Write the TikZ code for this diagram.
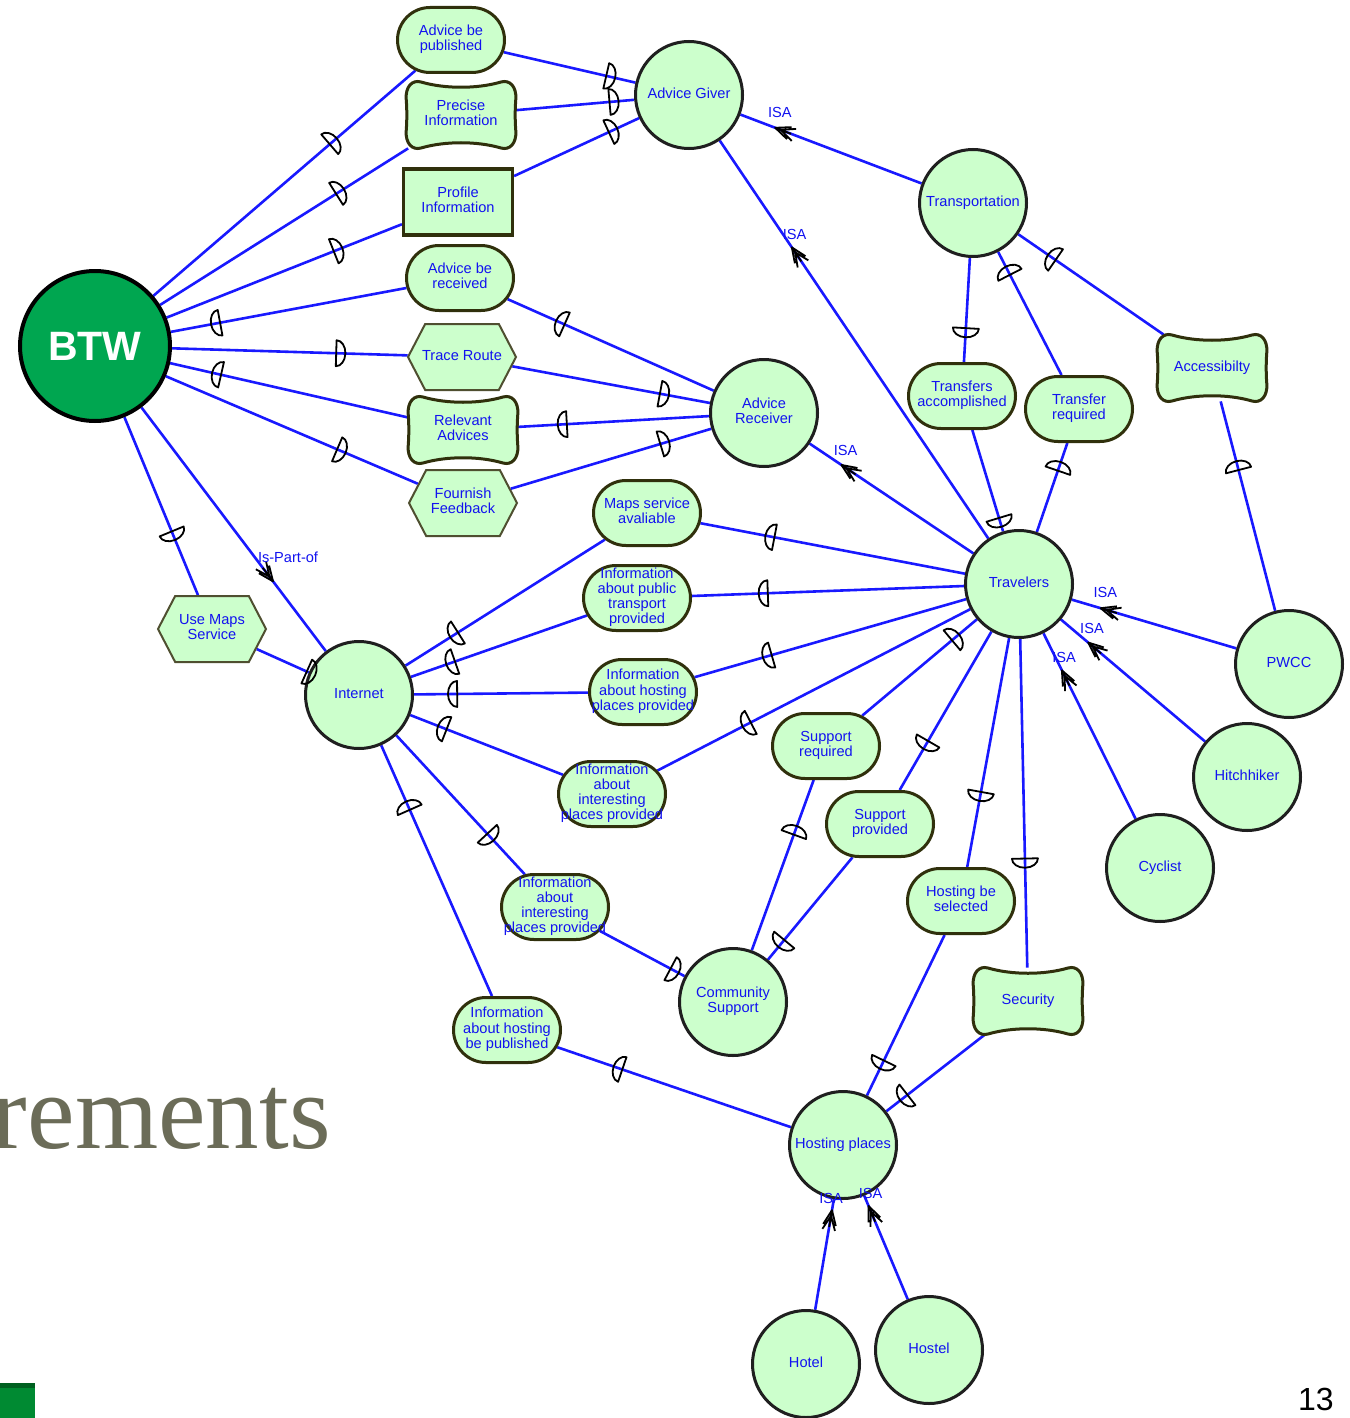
\documentclass[tikz,border=0pt]{standalone}
\usepackage{fontspec}
\setmainfont{Liberation Sans}
\newfontfamily\titleserif{Liberation Serif}
\usetikzlibrary{shapes.misc,shapes.symbols,backgrounds}

\definecolor{ifill}{RGB}{204,255,204}
\definecolor{iblue}{RGB}{18,18,240}
\definecolor{linkblue}{RGB}{25,25,255}
\definecolor{olive}{RGB}{48,48,12}
\definecolor{btwgreen}{RGB}{0,166,80}
\definecolor{titlegrey}{RGB}{107,108,88}
\definecolor{barmid}{RGB}{0,138,50}
\definecolor{bartop}{RGB}{0,96,32}

% centred, fixed-width label box so that the outline size never depends on the text
\newcommand\tx[1]{\makebox[20pt]{\begin{tabular}{@{}c@{}}#1\end{tabular}}}

\tikzset{
  lbl/.style={text=iblue, font=\fontsize{7.3}{7.6}\selectfont, inner sep=0pt},
  actor/.style={lbl, circle, fill=ifill, draw=black!88, line width=1.5pt, minimum size=53.5pt},
  goal/.style={lbl, rounded rectangle, fill=ifill, draw=olive, line width=1.5pt,
    minimum width=53.5pt, minimum height=32.5pt},
  task/.style={lbl, signal, signal to=west and east, signal pointer angle=125, fill=ifill,
    draw=olive!85, line width=1pt, minimum width=54pt, minimum height=33pt},
  resource/.style={lbl, rectangle, fill=ifill, draw=olive, line width=1.6pt,
    minimum width=54.5pt, minimum height=33pt},
  softbox/.style={lbl, rectangle, minimum width=54pt, minimum height=33pt},
  softline/.style={fill=ifill, draw=olive, line width=1.5pt},
  link/.style={draw=linkblue, line width=1.3pt},
  markline/.style={draw=black, line width=0.9pt, line join=round},
  isatext/.style={text=iblue, font=\fontsize{7.3}{8}\selectfont, inner sep=0pt},
  % half-disc link marks, bulging towards the end or the start of the link
  dmend/.pic={\draw[markline] (-1.8pt,-6.5pt) -- (-1.8pt,6.5pt)
     arc[start angle=90,end angle=-90,x radius=4.6pt,y radius=6.5pt] -- cycle;},
  dmstart/.pic={\draw[markline] (1.8pt,-6.5pt) -- (1.8pt,6.5pt)
     arc[start angle=90,end angle=270,x radius=4.6pt,y radius=6.5pt] -- cycle;},
  % double chevron for ISA / Is-Part-of links, pointing towards the end
  isahead/.pic={\draw[markline] (-5pt,3.2pt) -- (2.5pt,0pt) -- (-5pt,-3.2pt)
     (-7.5pt,3.2pt) -- (-0.5pt,0pt) -- (-7.5pt,-3.2pt) (2.5pt,0pt) -- (-6pt,0pt);},
  onlink/.style={sloped, allow upside down},
}

% softgoal: wavy outline plus an invisible rectangle carrying the name
\newcommand\softgoal[3]{%
  \path[softline, shift={(#2)}] (-20pt,16.5pt) .. controls (-8pt,13pt) and (8pt,13pt) .. (20pt,16.5pt)
    .. controls (24.5pt,17.8pt) and (27.8pt,14pt) .. (27.4pt,8pt)
    .. controls (27pt,3pt) and (27pt,-3pt) .. (27.4pt,-8pt)
    .. controls (27.8pt,-14pt) and (24.5pt,-17.8pt) .. (20pt,-16.5pt)
    .. controls (8pt,-13pt) and (-8pt,-13pt) .. (-20pt,-16.5pt)
    .. controls (-24.5pt,-17.8pt) and (-27.8pt,-14pt) .. (-27.4pt,-8pt)
    .. controls (-27pt,-3pt) and (-27pt,3pt) .. (-27.4pt,8pt)
    .. controls (-27.8pt,14pt) and (-24.5pt,17.8pt) .. (-20pt,16.5pt) -- cycle;
  \node[softbox] (#1) at (#2) {\tx{#3}};}

% link with a half-disc mark placed along the centre line
\newcommand\mlink[4]{%
  \begin{pgfonlayer}{background}\draw[link] (#1) -- (#2);\end{pgfonlayer}%
  \path (#1.center) -- (#2.center) pic[pos=#3,onlink]{#4};}

% ISA link from child to parent
\newcommand\isalink[2]{%
  \begin{pgfonlayer}{background}\draw[link] (#1) -- (#2);\end{pgfonlayer}%
  \path (#1.center) -- (#2.center) pic[pos=0.68,onlink]{isahead}
    node[pos=0.68, isatext, yshift=8.5pt]{ISA};}

\begin{document}
\begin{tikzpicture}[x=0.5pt,y=-0.5pt]
\useasboundingbox (0,0) rectangle (1349,1418);

\begin{pgfonlayer}{background}
  \fill[white] (0,0) rectangle (1349,1418);
  \begin{scope}
    \clip (0,0) rectangle (1349,1418);
    \node[anchor=base east, inner sep=0pt, text=titlegrey,
      font=\titleserif\fontsize{53.5}{60}\selectfont] (title) at (331,1148) {rements};
  \end{scope}
  \fill[barmid] (0,1383) rectangle (35,1418);
  \fill[bartop] (0,1383) rectangle (35,1388);
\end{pgfonlayer}
\node[anchor=base east, inner sep=0pt, font=\fontsize{16}{16}\selectfont] (pagenum) at (1334,1410) {13};

% actors
\node[circle, fill=btwgreen, draw=black, line width=2pt, minimum size=75pt, inner sep=0pt,
  text=white, font=\bfseries\fontsize{20.5}{20}\selectfont] (btw) at (95,346) {BTW};
\node[actor] (ag) at (689,95) {\tx{Advice Giver}};
\node[actor] (tp) at (973,203) {\tx{Transportation}};
\node[actor] (ar) at (764,413) {\tx{Advice\\Receiver}};
\node[actor] (tv) at (1019,584) {\tx{Travelers}};
\node[actor] (inet) at (359,695) {\tx{Internet}};
\node[actor] (pw) at (1289,664) {\tx{PWCC}};
\node[actor] (hh) at (1247,777) {\tx{Hitchhiker}};
\node[actor] (cy) at (1160,868) {\tx{Cyclist}};
\node[actor] (comm) at (733,1002) {\tx{Community\\Support}};
\node[actor] (hp) at (843,1145) {\tx{Hosting places}};
\node[actor] (hotel) at (806,1364) {\tx{Hotel}};
\node[actor] (hostel) at (929,1350) {\tx{Hostel}};

% goals
\node[goal] (g1) at (451,40) {\tx{Advice be\\published}};
\node[goal] (g2) at (460,278) {\tx{Advice be\\received}};
\node[goal] (g3) at (962,396) {\tx{Transfers\\accomplished}};
\node[goal] (g4) at (1079,409) {\tx{Transfer\\required}};
\node[goal] (g5) at (647,513) {\tx{Maps service\\avaliable}};
\node[goal] (g6) at (637,598) {\tx{Information\\about public\\transport\\provided}};
\node[goal] (g7) at (643,692) {\tx{Information\\about hosting\\places provided}};
\node[goal] (g8) at (612,794) {\tx{Information\\about\\interesting\\places provided}};
\node[goal] (g9) at (826,746) {\tx{Support\\required}};
\node[goal] (g10) at (880,824) {\tx{Support\\provided}};
\node[goal] (g11) at (555,907) {\tx{Information\\about\\interesting\\places provided}};
\node[goal] (g12) at (961,901) {\tx{Hosting be\\selected}};
\node[goal] (g13) at (507,1030) {\tx{Information\\about hosting\\be published}};

% softgoals
\softgoal{s1}{461,115}{Precise\\Information}
\softgoal{s2}{463,430}{Relevant\\Advices}
\softgoal{s3}{1212,368}{Accessibilty}
\softgoal{s4}{1028,1001}{Security}

% resource
\node[resource] (res) at (458,202) {\tx{Profile\\Information}};

% tasks
\node[task] (trace) at (462,357) {\tx{Trace Route}};
\node[task] (ff) at (463,503) {\tx{Fournish\\Feedback}};
\node[task] (ums) at (212,629) {\tx{Use Maps\\Service}};

% links from BTW
\mlink{btw}{g1}{0.667}{dmend}
\mlink{btw}{s1}{0.667}{dmend}
\mlink{btw}{res}{0.667}{dmend}
\mlink{btw}{g2}{0.333}{dmstart}
\mlink{btw}{trace}{0.667}{dmend}
\mlink{btw}{s2}{0.333}{dmstart}
\mlink{btw}{ff}{0.667}{dmend}
\mlink{btw}{ums}{0.667}{dmend}
\begin{pgfonlayer}{background}\draw[link] (btw) -- (inet);\end{pgfonlayer}
\path (btw.center) -- (inet.center) pic[pos=0.663,onlink]{isahead}
  node[pos=0.663, isatext, xshift=9pt, yshift=10pt]{Is-Part-of};

% Advice Giver / Advice Receiver
\mlink{g1}{ag}{0.667}{dmend}
\mlink{s1}{ag}{0.667}{dmend}
\mlink{res}{ag}{0.667}{dmend}
\mlink{g2}{ar}{0.333}{dmstart}
\mlink{trace}{ar}{0.667}{dmend}
\mlink{s2}{ar}{0.333}{dmstart}
\mlink{ff}{ar}{0.667}{dmend}

% Transportation
\mlink{tp}{g3}{0.667}{dmend}
\mlink{tp}{g4}{0.333}{dmstart}
\mlink{tp}{s3}{0.333}{dmstart}
\mlink{s3}{pw}{0.333}{dmstart}

% Travelers
\mlink{g3}{tv}{0.667}{dmend}
\mlink{g4}{tv}{0.333}{dmstart}
\mlink{g5}{tv}{0.333}{dmstart}
\mlink{g6}{tv}{0.333}{dmstart}
\mlink{g7}{tv}{0.333}{dmstart}
\mlink{g8}{tv}{0.333}{dmstart}
\mlink{g9}{tv}{0.667}{dmend}
\mlink{g10}{tv}{0.333}{dmstart}
\mlink{g12}{tv}{0.333}{dmstart}
\mlink{s4}{tv}{0.333}{dmstart}

% Internet
\mlink{ums}{inet}{0.667}{dmend}
\mlink{inet}{g5}{0.333}{dmstart}
\mlink{inet}{g6}{0.333}{dmstart}
\mlink{inet}{g7}{0.333}{dmstart}
\mlink{inet}{g8}{0.333}{dmstart}
\mlink{inet}{g11}{0.667}{dmend}
\mlink{inet}{g13}{0.333}{dmstart}

% Community Support and Hosting places
\mlink{g11}{comm}{0.667}{dmend}
\mlink{g9}{comm}{0.333}{dmstart}
\mlink{g10}{comm}{0.667}{dmend}
\mlink{g13}{hp}{0.333}{dmstart}
\mlink{g12}{hp}{0.667}{dmend}
\mlink{s4}{hp}{0.667}{dmend}

% ISA links
\isalink{tp}{ag}
\isalink{tv}{ag}
\isalink{tv}{ar}
\isalink{pw}{tv}
\isalink{hh}{tv}
\isalink{cy}{tv}
\isalink{hotel}{hp}
\isalink{hostel}{hp}
\end{tikzpicture}
\end{document}
